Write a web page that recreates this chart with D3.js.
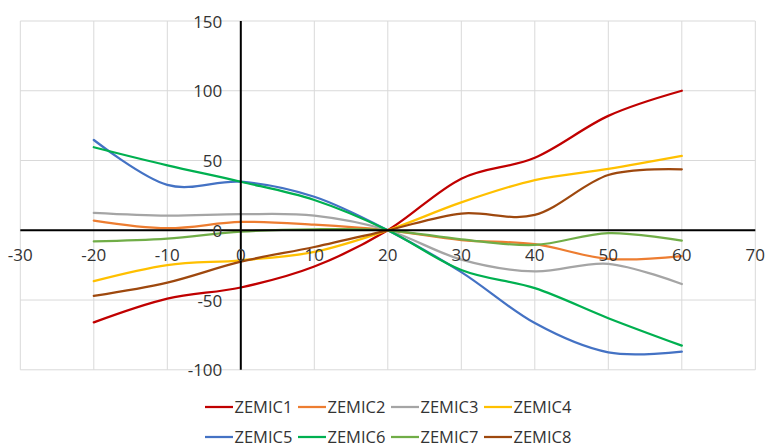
<!DOCTYPE html>
<html><head><meta charset="utf-8">
<script src="https://cdn.jsdelivr.net/npm/d3@7"></script>
<style>body{margin:0;background:#fff}svg{display:block}text{font-family:"Open Sans",sans-serif;fill:#333}</style>
</head><body><svg id="c" width="766" height="448"></svg>
<script>
const xValues = [-20, -10, 0, 10, 20, 30, 40, 50, 60];
const seriesNames = ["ZEMIC1","ZEMIC2","ZEMIC3","ZEMIC4","ZEMIC5","ZEMIC6","ZEMIC7","ZEMIC8"];
const zemic1 = [-66, -49, -41, -26, 0, 37, 52, 82, 100];
const zemic2 = [7, 1.5, 6, 4, 0, -7, -10, -20.5, -18.5];
const zemic3 = [12.5, 10.5, 11.5, 10.5, 0, -21, -29.5, -24, -38.5];
const zemic4 = [-36.5, -25, -21.5, -15.5, 0, 20, 36, 44, 53.3];
const zemic5 = [64.7, 32.5, 34.8, 24, 0, -30, -66.5, -87.5, -87];
const zemic6 = [59.5, 46.5, 34.8, 21.7, 0, -28.5, -41.5, -63, -82.7];
const zemic7 = [-8, -6, -1, 0.7, 0, -6.5, -10.5, -2, -7.4];
const zemic8 = [-47, -37.5, -22.5, -12, 0, 12, 11, 39.6, 43.7];
const seriesValues = [zemic1, zemic2, zemic3, zemic4, zemic5, zemic6, zemic7, zemic8];
const colors = ["#C00000","#ED7D31","#A5A5A5","#FFC000","#4472C4","#00B050","#70AD47","#9E480E"];
const xTicks = [-30,-20,-10,0,10,20,30,40,50,60,70];
const yTicks = [-100,-50,0,50,100,150];

const svg = d3.select("#c");
const x = d3.scaleLinear().domain([-30,70]).range([20.3,755.3]);
const y = d3.scaleLinear().domain([-100,150]).range([369.8,21]);

// gridlines
const g = svg.append("g");
g.selectAll("line.v").data(xTicks).enter().append("line")
  .attr("x1",d=>x(d)).attr("x2",d=>x(d)).attr("y1",y(150)).attr("y2",y(-100))
  .attr("stroke","#d9d9d9").attr("stroke-width",1);
g.selectAll("line.h").data(yTicks).enter().append("line")
  .attr("x1",x(-30)).attr("x2",x(70)).attr("y1",d=>y(d)).attr("y2",d=>y(d))
  .attr("stroke","#d9d9d9").attr("stroke-width",1);

// series
const line = d3.line().x(d=>x(d[0])).y(d=>y(d[1])).curve(d3.curveCardinal.tension(0));
seriesValues.forEach((vals,i)=>{
  svg.append("path").datum(xValues.map((xv,j)=>[xv,vals[j]]))
    .attr("d",line).attr("fill","none").attr("stroke",colors[i])
    .attr("stroke-width",2.25).attr("stroke-linejoin","round").attr("stroke-linecap","round");
});

// axes lines
svg.append("line").attr("x1",x(-30)).attr("x2",x(70)).attr("y1",y(0)).attr("y2",y(0))
  .attr("stroke","#000").attr("stroke-width",2);
svg.append("line").attr("x1",x(0)).attr("x2",x(0)).attr("y1",y(150)).attr("y2",y(-100))
  .attr("stroke","#000").attr("stroke-width",2);

// tick labels
svg.selectAll("text.xt").data(xTicks).enter().append("text")
  .attr("x",d=>x(d)).attr("y",y(0)+31).attr("text-anchor","middle")
  .attr("font-size",17).text(d=>d);
svg.selectAll("text.yt").data(yTicks).enter().append("text")
  .attr("x",x(0)-18.5).attr("y",d=>y(d)+6.5).attr("text-anchor","end")
  .attr("font-size",17).text(d=>d);

// legend
const leg = svg.append("g");
seriesNames.forEach((n,i)=>{
  const row = Math.floor(i/4), col = i%4;
  const lx = 205 + col*93, ly = 407 + row*30;
  leg.append("line").attr("x1",lx).attr("x2",lx+28).attr("y1",ly).attr("y2",ly)
    .attr("stroke",colors[i]).attr("stroke-width",2.25);
  leg.append("text").attr("x",lx+29.5).attr("y",ly+6).attr("font-size",16.5).text(n);
});
</script></body></html>
